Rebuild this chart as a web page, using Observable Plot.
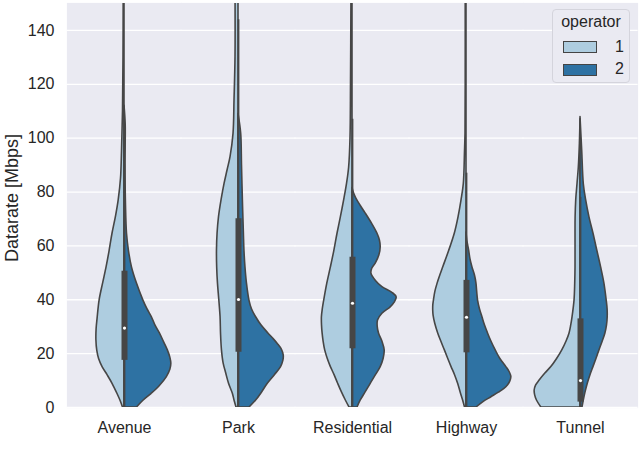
<!DOCTYPE html>
<html>
<head>
<meta charset="utf-8">
<script src="https://cdn.jsdelivr.net/npm/d3@7"></script>
<script src="https://cdn.jsdelivr.net/npm/@observablehq/plot@0.6"></script>
<style>
  body { margin: 0; background: #fff; }
  #wrap { position: relative; width: 640px; height: 467px; font-family: "Liberation Sans", Arial, sans-serif; color: #262626; }
  #ylabel { position: absolute; left: 11.5px; top: 198px; transform: translate(-50%, -50%) rotate(-90deg); font-size: 18px; white-space: nowrap; }
  #legend { position: absolute; left: 552px; top: 9px; width: 78px; height: 74px; background: #EAEAF2; border: 1px solid #d4d4dc; border-radius: 4px; box-sizing: border-box; }
  #legend .title { position: absolute; left: 0; width: 100%; top: 3px; text-align: center; font-size: 16px; }
  #legend .item { position: absolute; left: 10px; height: 12px; width: 62px; }
  #legend .sw { position: absolute; left: 0; top: 0; width: 32px; height: 10px; border: 1px solid #444; }
  #legend .lab { position: absolute; left: 52px; top: -3.5px; font-size: 16px; }
</style>
</head>
<body>
<div id="wrap"></div>
<script>
// ---- data ----
const categories = ["Avenue", "Park", "Residential", "Highway", "Tunnel"];
const operators = ["1", "2"];
const yTicks = [0, 20, 40, 60, 80, 100, 120, 140];

// density profiles: [datarate, density (half-width units)]
const avenue1 = [[0,1.5],[2.5,4],[5,7],[8.8,12],[12,17],[15,22],[18,25.5],[21,27.3],[25,28.2],[29,28],[33,27],[39.7,25],[46,21.5],[52,18],[58,15],[64.6,12],[71,8.5],[77,5.8],[85,3.5],[95,2.5],[110,1.5],[130,1],[155,0.8]];
const avenue2 = [[0,12.5],[2.5,19],[5,27],[8,35.5],[11.3,42.5],[14,46],[16.2,47],[18.5,46],[21.2,43.5],[24,40],[27.5,35.5],[30.5,31],[33.5,27.5],[36.5,23],[39.7,19],[46,12.5],[52,7.5],[58,4.5],[64.6,2.5],[75,1.5],[90,1],[105,1.2],[112,0]];
const park1 = [[0,2],[2.6,4],[5,5.6],[8.8,9.5],[12.6,12.3],[16.5,15],[21.2,16.6],[27,17.5],[33.5,18],[40,19.3],[46,20.6],[52,21.4],[58.3,21.6],[64.6,21],[70.6,19.6],[77,17],[83,14],[88,11],[93,8],[101.6,5],[114,4],[130,3],[155,3]];
const park2 = [[0,11],[2.6,17.7],[5.5,23.5],[8.8,29.4],[12,36.5],[15,42.7],[17.3,45],[19.3,45.4],[21.5,43.5],[23.6,39.4],[25.5,35],[27.5,30],[30.5,23],[33.5,17.7],[36.5,13.5],[39.7,11],[46,8.5],[52,7],[58,6],[64.6,5.4],[76.9,4.4],[90,3.5],[101.6,2.7],[109,0]];
const residential1 = [[0,3],[2.6,6.7],[5.5,10.5],[8.8,14.4],[12,18],[15,21.7],[18,24.8],[21.2,27.4],[24.5,29],[27.5,30],[30.5,30.6],[33.5,30.7],[36.5,29.8],[39.7,28.4],[46,25.3],[52,21.7],[58,18.3],[64.6,15],[70.6,11.7],[76.9,8.4],[83,5.5],[89,3.4],[100,2],[120,1.5],[155,1]];
const residential2 = [[0,5],[2.6,8.3],[5.5,13],[8.8,18.3],[12,23.5],[15,28.3],[18,31.2],[21.2,32.3],[24.5,30],[27.5,26.6],[30,25.3],[32.3,25.6],[34.8,30],[37.2,38.3],[39,42.5],[40.9,44.3],[42.6,40],[44.7,30],[47,23.5],[49.7,19],[51.5,19.8],[53.4,23.3],[56.5,27],[59.5,28.3],[62,27.5],[64.6,25],[68,20],[72,13.3],[75,8],[77.5,4],[79.5,1.5],[81.5,0]];
const highway1 = [[0,1.5],[2.6,3.4],[5.5,5.8],[8.8,8.4],[12,11.5],[15,15],[18,18.3],[21.2,21.7],[24.5,25.3],[27.5,28.4],[31,31.3],[34,33],[36,33.4],[38,33.3],[39.7,32.7],[43,31.2],[46,29],[49,26.3],[52,23.4],[58,17.5],[64.6,11.7],[70.6,8],[76.9,5],[83,2.7],[95,1.5],[101.6,1],[120,0.8],[155,0.8]];
const highway2 = [[0,10],[2,17],[3.8,25],[5.5,32.5],[7.5,40],[9.5,43.8],[11.3,45],[13,43.5],[15,40],[18,34],[21.2,29.3],[24.5,25],[27.5,21.6],[30.5,18.5],[33.5,16],[36.5,13.5],[39.7,11.6],[43,10.7],[46,10],[49,8.5],[52,6],[55,4],[58.3,2.6],[62,0.8],[65,0]];
const tunnel1 = [[0,39.3],[2.6,43.7],[4.5,45.5],[6.3,46],[8.2,44.5],[10,41],[12.5,35.5],[15,29.3],[18,23.5],[21.2,18.3],[24.5,14],[27.5,11],[30.5,9.3],[33.5,8],[39.7,6],[46,5.3],[52,5],[64.6,5],[70.6,4.9],[76.9,4.3],[83,3],[89,1.7],[98,0.6],[107,0]];
const tunnel2 = [[0,2],[2.6,3.3],[5.5,5],[8.8,7.3],[12,10],[15,13],[18,16],[21.2,19],[24.5,22.3],[27.5,25],[30.5,26.6],[33.5,27.3],[36.5,27.2],[39.7,26.3],[46,24],[52,20.7],[58,17],[64.6,13],[70.6,9],[76.9,5.7],[83,3.3],[95.4,1.7],[107.8,0]];

// box statistics (combined): whisker low, q1, median, q3, whisker high
const whiskerLow = [0, 0, 0, 0, 0];
const q1 = [17.5, 20.5, 21.8, 20.3, 2];
const median = [29.5, 40.1, 38.7, 33.5, 10];
const q3 = [50.6, 70.1, 55.8, 47.2, 32.9];
const whiskerHigh = [100, 144, 107, 87, 78];

// ---- build tables ----
const profiles = {
  Avenue: [avenue1, avenue2], Park: [park1, park2], Residential: [residential1, residential2],
  Highway: [highway1, highway2], Tunnel: [tunnel1, tunnel2]
};
const rows = [];
for (const c of categories) {
  profiles[c].forEach((prof, i) => {
    const op = operators[i];
    for (const [v, d] of prof) rows.push({category: c, op, value: v, x: i === 0 ? -d : d});
  });
}
const boxes = categories.map((c, i) => ({category: c, lo: whiskerLow[i], q1: q1[i], med: median[i], q3: q3[i], hi: whiskerHigh[i]}));

const colors = ["#AECDE0", "#2E72A3"];
const gray = "#464646";
const chart = Plot.plot({
  width: 640,
  height: 467,
  marginLeft: 66,
  marginRight: 3,
  marginTop: 3,
  marginBottom: 60,
  fx: {domain: categories, padding: 0},
  x: {domain: [-57.2, 57.2], axis: null},
  y: {domain: [0, 150]},
  color: {domain: operators, range: colors},
  style: {fontFamily: "'Liberation Sans', Arial, sans-serif", fontSize: "16px", color: "#262626", background: "white"},
  marks: [
    Plot.frame({fill: "#EAEAF2", stroke: "none", inset: -0.6}),
    Plot.gridY(yTicks, {stroke: "white", strokeOpacity: 1, strokeWidth: 1.3, inset: -0.6}),
    Plot.areaX(rows, {fx: "category", y: "value", x1: 0, x2: "x", z: "op", fill: "op", stroke: gray, strokeWidth: 1.6, curve: "catmull-rom", clip: true}),
    Plot.ruleX(boxes, {fx: "category", x: 0, y1: "lo", y2: "hi", stroke: gray, strokeWidth: 1.8, clip: true}),
    Plot.ruleX(boxes, {fx: "category", x: 0, y1: "q1", y2: "q3", stroke: gray, strokeWidth: 6}),
    Plot.dot(boxes, {fx: "category", x: 0, y: "med", r: 1.6, fill: "white", stroke: "none"}),
    Plot.axisY({ticks: yTicks, tickSize: 0, tickPadding: 13, label: null, fontSize: 16}),
    Plot.axisFx({anchor: "bottom", tickSize: 0, tickPadding: 14, label: null, fontSize: 16})
  ]
});
const wrap = document.getElementById("wrap");
wrap.appendChild(chart);

// y axis title
const ylab = document.createElement("div");
ylab.id = "ylabel";
ylab.textContent = "Datarate [Mbps]";
wrap.appendChild(ylab);

// legend (inside the plot, top right)
const legend = document.createElement("div");
legend.id = "legend";
legend.innerHTML = `<div class="title">operator</div>`;
operators.forEach((op, i) => {
  const item = document.createElement("div");
  item.className = "item";
  item.style.top = (31 + i * 22.5) + "px";
  item.innerHTML = `<div class="sw" style="background:${colors[i]}"></div><div class="lab">${op}</div>`;
  legend.appendChild(item);
});
wrap.appendChild(legend);
</script>
</body>
</html>
